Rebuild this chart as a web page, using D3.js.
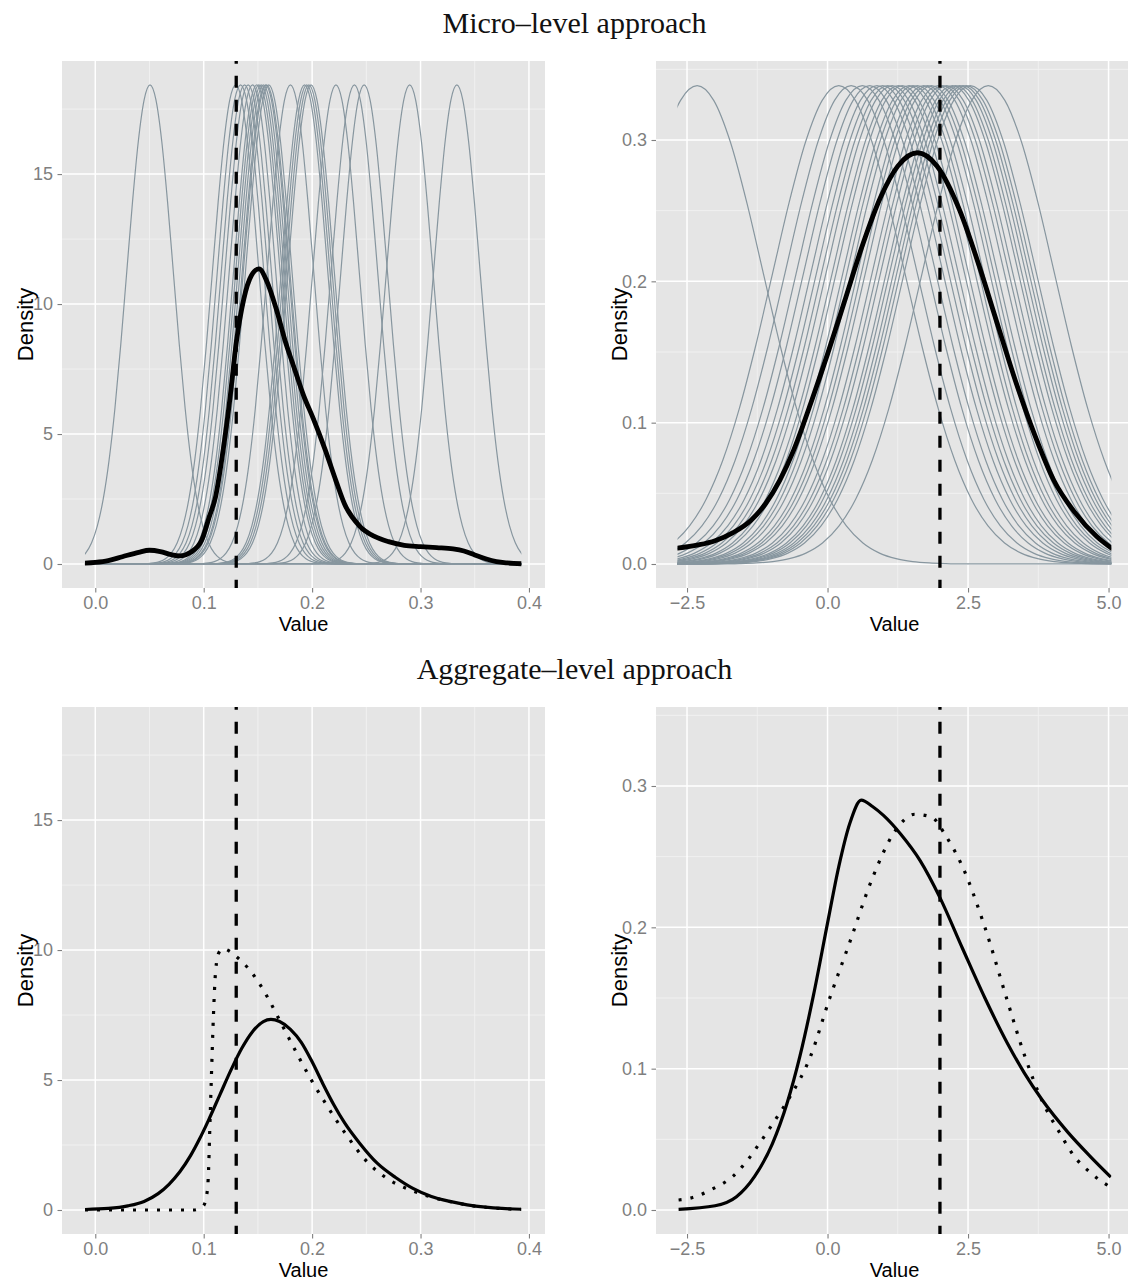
<!DOCTYPE html>
<html>
<head>
<meta charset="utf-8">
<title>Micro and aggregate level densities</title>
<style>
  body, html { margin: 0; padding: 0; background: #fff; }
  svg { display: block; }
</style>
</head>
<body>
<svg id="svg" width="1128" height="1281"></svg>
<script src="https://d3js.org/d3.v7.min.js"></script>
<script>
// ---- values ----
const trueSmall = 0.13   // dashed line, left column
const trueLarge = 2.0    // dashed line, right column

// x range the curves were evaluated on
const smallRange = [-0.0095, 0.393]
const largeRange = [-2.67, 5.05]

// peaks of the grey per-unit curves (top row)
const microSmallCentres = [0.0505, 0.1295, 0.134, 0.1377, 0.141, 0.145, 0.149, 0.151, 0.153, 0.155,
  0.157, 0.158, 0.160, 0.180, 0.193, 0.195, 0.197, 0.199, 0.222, 0.239, 0.248, 0.290, 0.3335]
const microLargeCentres = [-2.32, 0.2, 0.42, 0.62, 0.75, 0.88, 0.98, 1.07, 1.15, 1.26, 1.33, 1.45,
  1.52, 1.6, 1.71, 1.78, 1.85, 1.97, 2.05, 2.12, 2.22, 2.28, 2.35, 2.41, 2.47, 2.54, 2.86]
const microSmallPeak = 18.43
const microSmallSd = 0.0216
const microLargePeak = 0.3385
const microLargeSd = 1.18

// one grey curve: height relative to its peak, every quarter sd out from the centre
const bumpShape = [1, 0.9692, 0.8825, 0.7548, 0.6065, 0.4578, 0.3247, 0.2163, 0.1353,
  0.0796, 0.0439, 0.0228, 0.0111, 0.0051, 0.0022, 0.0009, 0.0003]

// thick black curves, top row  [value, density]
const microSmallMean = [[-0.0095, 0.03], [0.0, 0.06], [0.012, 0.13], [0.025, 0.28], [0.04, 0.45],
  [0.05, 0.53], [0.06, 0.48], [0.07, 0.36], [0.078, 0.31], [0.088, 0.45], [0.098, 0.9],
  [0.105, 1.8], [0.111, 2.6], [0.118, 4.4], [0.124, 6.3], [0.130, 8.5], [0.137, 10.2],
  [0.144, 11.1], [0.151, 11.35], [0.158, 10.9], [0.167, 9.8], [0.175, 8.6], [0.183, 7.6],
  [0.192, 6.5], [0.201, 5.6], [0.212, 4.4], [0.222, 3.2], [0.230, 2.3], [0.244, 1.45],
  [0.258, 1.05], [0.2705, 0.86], [0.285, 0.72], [0.300, 0.67], [0.315, 0.63], [0.330, 0.58],
  [0.340, 0.5], [0.350, 0.35], [0.360, 0.2], [0.370, 0.09], [0.380, 0.04], [0.393, 0.01]]
const microLargeMean = [[-2.67, 0.0112], [-2.3, 0.0135], [-2.0, 0.0165], [-1.68, 0.0222],
  [-1.36, 0.031], [-1.1, 0.0428], [-0.85, 0.0592], [-0.6, 0.0808], [-0.3, 0.1136], [0.0, 0.1485],
  [0.3, 0.1855], [0.6, 0.223], [0.95, 0.26], [1.25, 0.2815], [1.6, 0.291], [1.95, 0.2815],
  [2.35, 0.2504], [2.7, 0.2106], [3.0, 0.1727], [3.35, 0.1288], [3.7, 0.0899], [4.02, 0.0596],
  [4.4, 0.0365], [4.79, 0.0194], [5.05, 0.0112]]

// bottom row: solid and dotted curves
const aggSmallSolid = [[-0.0095, 0.02], [0.012, 0.06], [0.03, 0.16], [0.045, 0.33], [0.058, 0.63],
  [0.068, 0.99], [0.078, 1.47], [0.088, 2.1], [0.096, 2.72], [0.1045, 3.46], [0.115, 4.44],
  [0.125, 5.37], [0.135, 6.21], [0.145, 6.86], [0.155, 7.25], [0.162, 7.33], [0.17, 7.25],
  [0.18, 6.95], [0.19, 6.45], [0.2, 5.7], [0.21, 4.85], [0.22, 4.05], [0.23, 3.35],
  [0.244, 2.56], [0.26, 1.8], [0.277, 1.25], [0.293, 0.83], [0.31, 0.52], [0.327, 0.33],
  [0.343, 0.2], [0.36, 0.11], [0.375, 0.06], [0.393, 0.03]]
const aggSmallDotted = [[-0.0095, 0], [0.0905, 0], [0.0995, 0.15], [0.103, 0.64], [0.1045, 1.54],
  [0.1055, 2.96], [0.107, 5.0], [0.109, 7.5], [0.111, 9.2], [0.114, 9.9], [0.118, 10.05],
  [0.124, 9.95], [0.13, 9.75], [0.14, 9.35], [0.15, 8.8], [0.16, 8.1], [0.17, 7.3], [0.18, 6.5],
  [0.19, 5.7], [0.2, 4.95], [0.2124, 4.1], [0.2306, 2.95], [0.2506, 1.86], [0.2688, 1.22],
  [0.287, 0.83], [0.31, 0.5], [0.33, 0.3], [0.35, 0.15], [0.37, 0.07], [0.393, 0.02]]
const aggLargeSolid = [[-2.65, 0.0005], [-2.0, 0.003], [-1.62, 0.0094], [-1.3, 0.0236],
  [-0.98, 0.047], [-0.72, 0.0755], [-0.49, 0.109], [-0.25, 0.152], [0.0, 0.203], [0.2, 0.243],
  [0.4, 0.274], [0.6, 0.29], [0.8, 0.2855], [1.0, 0.279], [1.3, 0.266], [1.65, 0.247],
  [2.0, 0.221], [2.4, 0.1852], [2.8, 0.15], [3.2, 0.118], [3.5, 0.097], [3.82, 0.0778],
  [4.27, 0.0553], [4.66, 0.0385], [5.04, 0.0233]]
const aggLargeDotted = [[-2.65, 0.0071], [-2.45, 0.0083], [-2.06, 0.0146], [-1.68, 0.024],
  [-1.42, 0.0354], [-1.17, 0.0495], [-0.91, 0.065], [-0.67, 0.08], [-0.31, 0.108], [0.04, 0.15],
  [0.4, 0.19], [0.8, 0.235], [1.2, 0.268], [1.55, 0.28], [1.85, 0.278], [2.1, 0.265],
  [2.4, 0.243], [2.8, 0.2], [3.2, 0.148], [3.5, 0.11], [3.82, 0.077], [4.14, 0.054],
  [4.37, 0.039], [4.69, 0.026], [5.02, 0.0165]]

// ticks
const smallTicksX = [0, 0.1, 0.2, 0.3, 0.4]
const smallMinorX = [0.05, 0.15, 0.25, 0.35]
const smallTicksY = [0, 5, 10, 15]
const smallMinorY = [2.5, 7.5, 12.5, 17.5]
const largeTicksX = [-2.5, 0, 2.5, 5]
const largeMinorX = [-1.25, 1.25, 3.75]
const largeTicksY = [0, 0.1, 0.2, 0.3]
const largeMinorY = [0.05, 0.15, 0.25, 0.35]

const rowTitles = ['Micro\u2013level approach', 'Aggregate\u2013level approach']

// ---- layout ----
const rowShift = 646
const greyLine = '#87969F'
const sansFont = '"Liberation Sans", Arial, Helvetica, sans-serif'

const svg = d3.select('#svg')

// grey per-unit curve from the tabulated shape
function bump(centre, sd, peak) {
  const pts = [[centre - 20 * sd, 0]]
  for (let k = -(bumpShape.length - 1); k < bumpShape.length; k++) {
    pts.push([centre + k * 0.25 * sd, peak * bumpShape[Math.abs(k)]])
  }
  pts.push([centre + 20 * sd, 0])
  return pts
}

let clipCount = 0
function panel(p) {
  const x = d3.scaleLinear().domain(p.xDomain).range([p.left, p.right])
  const y = d3.scaleLinear().domain(p.yDomain).range([p.bottom, p.top])
  const g = svg.append('g')

  g.append('rect')
    .attr('x', p.left).attr('y', p.top)
    .attr('width', p.right - p.left).attr('height', p.bottom - p.top)
    .attr('fill', '#E5E5E5')

  // minor grid
  g.selectAll('.minx').data(p.minorX).join('line')
    .attr('x1', d => x(d)).attr('x2', d => x(d))
    .attr('y1', p.top).attr('y2', p.bottom)
    .attr('stroke', '#F2F2F2').attr('stroke-width', 0.9)
  g.selectAll('.miny').data(p.minorY).join('line')
    .attr('y1', d => y(d)).attr('y2', d => y(d))
    .attr('x1', p.left).attr('x2', p.right)
    .attr('stroke', '#F2F2F2').attr('stroke-width', 0.9)
  // major grid
  g.selectAll('.majx').data(p.ticksX).join('line')
    .attr('x1', d => x(d)).attr('x2', d => x(d))
    .attr('y1', p.top).attr('y2', p.bottom)
    .attr('stroke', '#FFFFFF').attr('stroke-width', 1.5)
  g.selectAll('.majy').data(p.ticksY).join('line')
    .attr('y1', d => y(d)).attr('y2', d => y(d))
    .attr('x1', p.left).attr('x2', p.right)
    .attr('stroke', '#FFFFFF').attr('stroke-width', 1.5)

  // axes
  g.append('g')
    .attr('transform', `translate(0,${p.bottom})`)
    .call(d3.axisBottom(x).tickValues(p.ticksX).tickFormat(p.fmtX).tickSize(4.5).tickPadding(3.5))
    .call(styleAxis)
  g.append('g')
    .attr('transform', `translate(${p.left},0)`)
    .call(d3.axisLeft(y).tickValues(p.ticksY).tickFormat(p.fmtY).tickSize(4.5).tickPadding(4.5))
    .call(styleAxis)

  g.append('text')
    .attr('x', (p.left + p.right) / 2)
    .attr('y', p.bottom + 42.7)
    .attr('text-anchor', 'middle')
    .attr('font-family', sansFont).attr('font-size', 20)
    .text('Value')
  g.append('text')
    .attr('transform', `translate(${p.left - 29},${(p.top + p.bottom) / 2}) rotate(-90)`)
    .attr('text-anchor', 'middle')
    .attr('font-family', sansFont).attr('font-size', 22)
    .text('Density')

  // clip to the evaluated range
  const id = 'clip' + (clipCount++)
  svg.append('clipPath').attr('id', id)
    .append('rect')
    .attr('x', x(p.range[0])).attr('y', p.top)
    .attr('width', x(p.range[1]) - x(p.range[0])).attr('height', p.bottom - p.top)
  const plot = g.append('g').attr('clip-path', `url(#${id})`)

  const line = d3.line().x(d => x(d[0])).y(d => y(d[1])).curve(d3.curveMonotoneX)
  return { x, y, g, plot, line }
}

function styleAxis(a) {
  a.select('.domain').remove()
  a.attr('font-family', sansFont).attr('font-size', 18)
  a.selectAll('line').attr('stroke', '#7F7F7F').attr('stroke-width', 1.1)
  a.selectAll('text').attr('fill', '#7F7F7F')
}

function dashedLine(pn, value, top, bottom) {
  pn.g.append('line')
    .attr('x1', pn.x(value)).attr('x2', pn.x(value))
    .attr('y1', top).attr('y2', bottom)
    .attr('stroke', '#000').attr('stroke-width', 3.3)
    .attr('stroke-dasharray', '12,12').attr('stroke-dashoffset', 9.3)
}

const leftBox = { left: 62, right: 545, xDomain: [-0.0307, 0.4148], yDomain: [-0.923, 19.35],
  ticksX: smallTicksX, minorX: smallMinorX, ticksY: smallTicksY, minorY: smallMinorY,
  fmtX: d3.format('.1f'), fmtY: d3.format('d'), range: smallRange }
const rightBox = { left: 656, right: 1133, xDomain: [-3.052, 5.435], yDomain: [-0.01698, 0.3559],
  ticksX: largeTicksX, minorX: largeMinorX, ticksY: largeTicksY, minorY: largeMinorY,
  fmtX: d3.format('.1f'), fmtY: d3.format('.1f'), range: largeRange }

// row titles
rowTitles.forEach((t, i) => {
  svg.append('text')
    .attr('x', 574.5).attr('y', 33 + i * rowShift)
    .attr('text-anchor', 'middle')
    .attr('font-family', '"Liberation Serif", "Times New Roman", serif')
    .attr('font-size', 30)
    .attr('fill', '#111')
    .text(t)
})

// ---- top row: micro level ----
const tl = panel({ ...leftBox, top: 61, bottom: 588 })
tl.plot.selectAll('.grey').data(microSmallCentres).join('path')
  .attr('d', c => tl.line(bump(c, microSmallSd, microSmallPeak)))
  .attr('fill', 'none').attr('stroke', greyLine).attr('stroke-width', 1.2)
dashedLine(tl, trueSmall, 61, 588)
tl.plot.append('path')
  .attr('d', tl.line(microSmallMean))
  .attr('fill', 'none').attr('stroke', '#000').attr('stroke-width', 4.8)
  .attr('stroke-linejoin', 'round').attr('stroke-linecap', 'round')

const tr = panel({ ...rightBox, top: 61, bottom: 588 })
tr.plot.selectAll('.grey').data(microLargeCentres).join('path')
  .attr('d', c => tr.line(bump(c, microLargeSd, microLargePeak)))
  .attr('fill', 'none').attr('stroke', greyLine).attr('stroke-width', 1.2)
dashedLine(tr, trueLarge, 61, 588)
tr.plot.append('path')
  .attr('d', tr.line(microLargeMean))
  .attr('fill', 'none').attr('stroke', '#000').attr('stroke-width', 4.8)
  .attr('stroke-linejoin', 'round').attr('stroke-linecap', 'round')

// ---- bottom row: aggregate level ----
const bl = panel({ ...leftBox, top: 61 + rowShift, bottom: 588 + rowShift })
dashedLine(bl, trueSmall, 61 + rowShift, 588 + rowShift)
bl.plot.append('path')
  .attr('d', bl.line(aggSmallDotted))
  .attr('fill', 'none').attr('stroke', '#000').attr('stroke-width', 3.2)
  .attr('stroke-dasharray', '3,9')
bl.plot.append('path')
  .attr('d', bl.line(aggSmallSolid))
  .attr('fill', 'none').attr('stroke', '#000').attr('stroke-width', 3.2)

const br = panel({ ...rightBox, top: 61 + rowShift, bottom: 588 + rowShift })
dashedLine(br, trueLarge, 61 + rowShift, 588 + rowShift)
br.plot.append('path')
  .attr('d', br.line(aggLargeDotted))
  .attr('fill', 'none').attr('stroke', '#000').attr('stroke-width', 3.2)
  .attr('stroke-dasharray', '3,9')
br.plot.append('path')
  .attr('d', br.line(aggLargeSolid))
  .attr('fill', 'none').attr('stroke', '#000').attr('stroke-width', 3.2)
</script>
</body>
</html>
